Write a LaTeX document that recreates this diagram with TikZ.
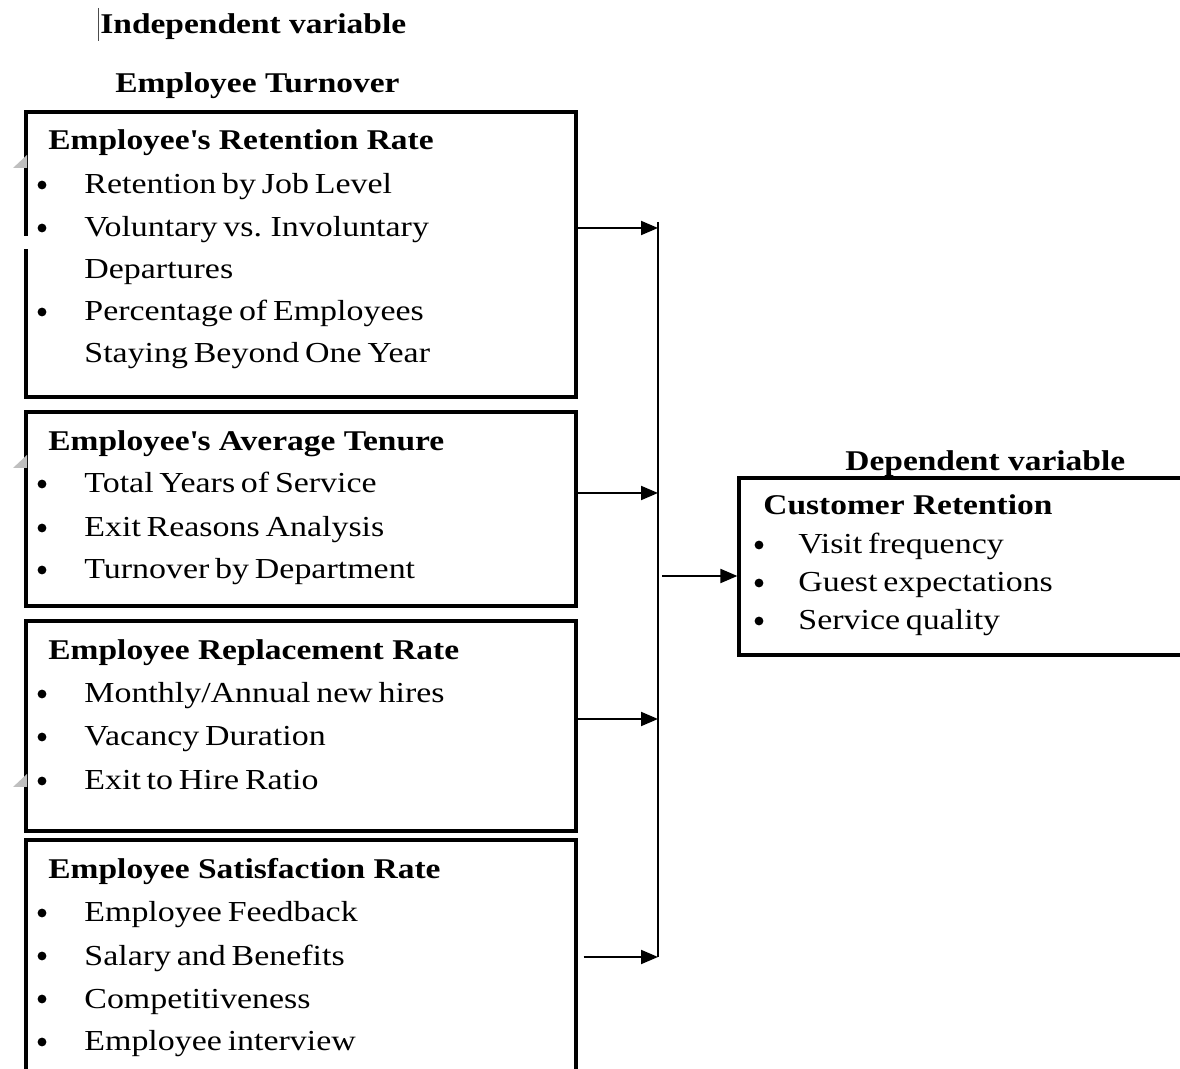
\documentclass[tikz,border=0pt]{standalone}
\usepackage{fontspec}
\setmainfont{Liberation Serif}[FakeStretch=1.17]
\usetikzlibrary{arrows.meta}
\newcommand\tightsp{\spaceskip=0.2em plus 0.1em\relax}
\begin{document}
\begin{tikzpicture}[x=0.5pt,y=-0.5pt,
  box/.style={draw, line width=1.6pt, inner sep=0pt},
  hd/.style={font=\fontsize{14.3}{16}\selectfont\bfseries, anchor=base west, inner sep=0pt},
  itm/.style={font=\fontsize{14.5}{16}\selectfont\tightsp, anchor=base west, inner sep=0pt},
  bul/.style={circle, fill=black, inner sep=0pt, minimum size=4.4pt},
  arr/.style={line width=1pt, -{Triangle[length=8.5pt,width=7pt]}},
  bus/.style={line width=1pt},
  tick/.style={fill=black!25, draw=none}
]
\useasboundingbox (0,0) rectangle (1180,1069);
\clip (0,0) rectangle (1180,1069);

% titles
\node[hd] (tind) at (100,34) {Independent variable};
\node[hd] (tturn) at (115,93) {Employee Turnover};
\node[hd] (tdep) at (845,471) {Dependent variable};
\draw[black!70, line width=0.5pt] (98,8) -- (98,41);

% boxes
\node[box, minimum width=275pt, minimum height=142.5pt] (b1) at (301,254.5) {};
\node[box, minimum width=275pt, minimum height=97pt] (b2) at (301,509) {};
\node[box, minimum width=275pt, minimum height=105pt] (b3) at (301,726) {};
\node[box, minimum width=275pt, minimum height=140pt] (b4) at (301,980) {};
\node[box, minimum width=240pt, minimum height=88.5pt] (cr) at (979,566.5) {};

% gaps and marks on the left border
\draw[white, line width=3pt] (26,236) -- (26,249);
\path[tick] (13,168) -- (27,155) -- (27,168) -- cycle;
\path[tick] (13,468) -- (27,455) -- (27,468) -- cycle;
\path[tick] (13,787) -- (27,774) -- (27,787) -- cycle;

% box 1
\node[hd] (h1) at (48,150) {Employee\textquotesingle s Retention Rate};
\foreach \y in {194,237,321} \node[bul] at (42,\y-9) {};
\node[itm] (i11) at (84,194) {Retention by Job Level};
\node[itm] (i12) at (84,237) {Voluntary vs. Involuntary};
\node[itm] (i12b) at (84,279) {Departures};
\node[itm] (i13) at (84,321) {Percentage of Employees};
\node[itm] (i13b) at (84,363) {Staying Beyond One Year};

% box 2
\node[hd] (h2) at (48,451) {Employee\textquotesingle s Average Tenure};
\foreach \y in {493,537,579} \node[bul] at (42,\y-9) {};
\node[itm] (i21) at (84,493) {Total Years of Service};
\node[itm] (i22) at (84,537) {Exit Reasons Analysis};
\node[itm] (i23) at (84,579) {Turnover by Department};

% box 3
\node[hd] (h3) at (48,660) {Employee Replacement Rate};
\foreach \y in {703,746,790} \node[bul] at (42,\y-9) {};
\node[itm] (i31) at (84,703) {Monthly/Annual new hires};
\node[itm] (i32) at (84,746) {Vacancy Duration};
\node[itm] (i33) at (84,790) {Exit to Hire Ratio};

% box 4
\node[hd] (h4) at (48,879) {Employee Satisfaction Rate};
\foreach \y in {922,965,1008,1051} \node[bul] at (42,\y-9) {};
\node[itm] (i41) at (84,922) {Employee Feedback};
\node[itm] (i42) at (84,965) {Salary and Benefits};
\node[itm] (i43) at (84,1008) {Competitiveness};
\node[itm] (i44) at (84,1051) {Employee interview};

% right box
\node[hd] (hc) at (763,515) {Customer Retention};
\foreach \y in {554,592,630} \node[bul] at (759,\y-9) {};
\node[itm] (c1) at (798,554) {Visit frequency};
\node[itm] (c2) at (798,592) {Guest expectations};
\node[itm] (c3) at (798,630) {Service quality};

% connectors
\coordinate (j1) at (658,228);
\coordinate (j2) at (658,493);
\coordinate (j3) at (658,719);
\coordinate (j4) at (658,957);
\coordinate (jm) at (662,576);
\draw[bus] (658,222) -- (j4);
\draw[arr] (b1.east |- j1) -- (j1);
\draw[arr] (b2.east |- j2) -- (j2);
\draw[arr] (b3.east |- j3) -- (j3);
\draw[arr] ([xshift=3pt]b4.east |- j4) -- (j4);
\draw[arr] (jm) -- (cr.west |- jm);
\end{tikzpicture}
\end{document}
